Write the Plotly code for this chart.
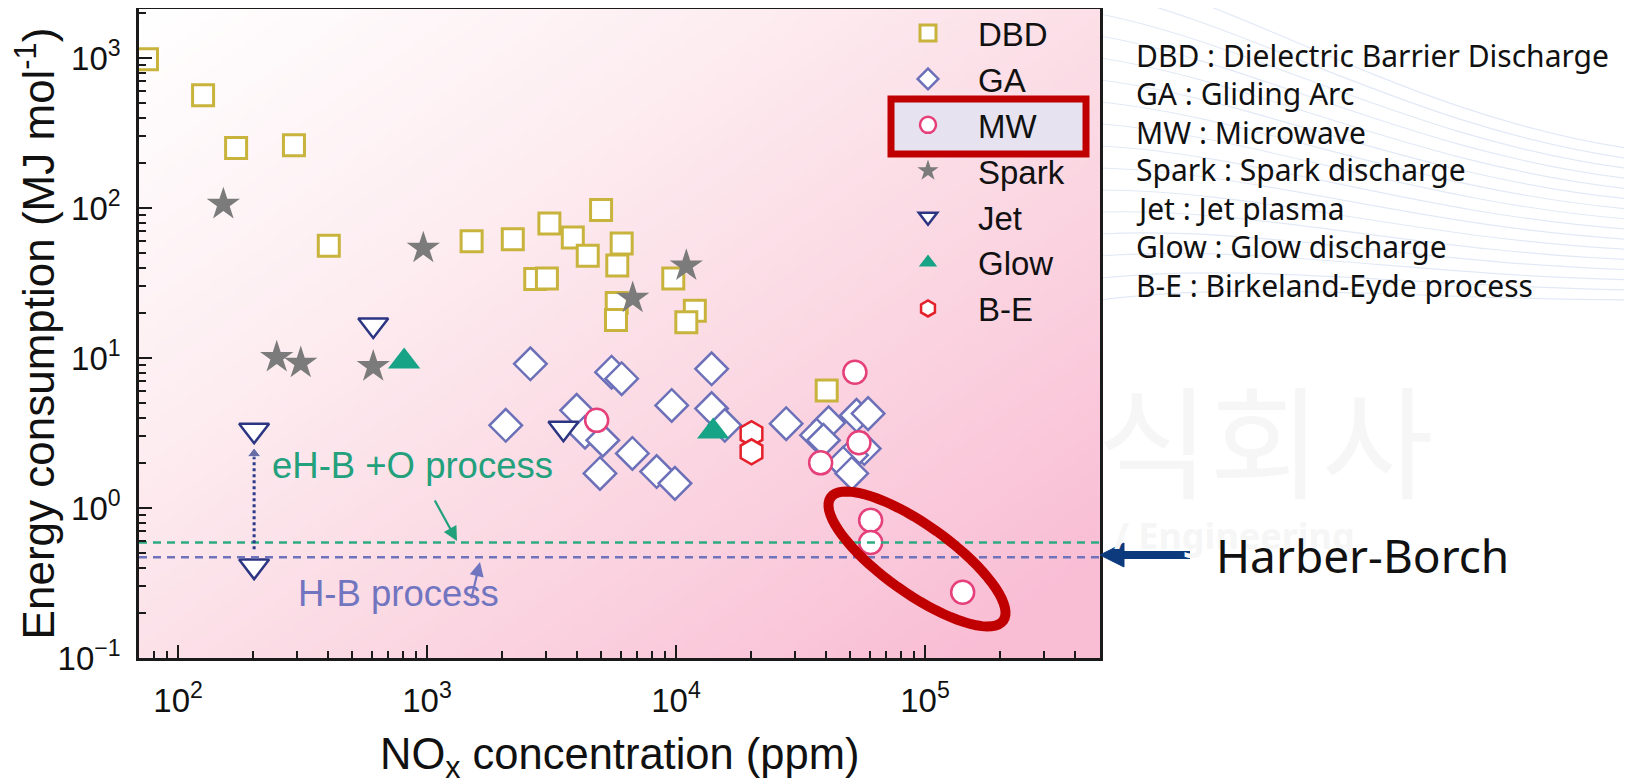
import base64
import math
import struct
import zlib

import plotly.graph_objects as go

# ---------------- data ----------------
dbd_x = [75, 126, 171, 292, 403, 1510, 2210, 3100, 5000, 3850, 4420, 6050, 5810,
         2720, 3030, 5780, 5740, 9750, 11900, 11000, 40300]
dbd_y = [980, 565, 251, 262, 56, 60, 62, 79, 97, 63.5, 48, 58, 41.4,
         33.6, 33.9, 23.3, 17.9, 33.9, 20.7, 17.3, 6.08]

ga_x = [2070, 2600, 3990, 4310, 5080, 4950, 5510, 6050, 6680, 8360, 9900, 9610,
        13900, 13900, 15700, 27700, 41000, 36700, 39100, 53100, 59100, 57000,
        50700, 46900, 50800]
ga_y = [3.56, 9.15, 4.48, 3.2, 2.83, 1.70, 8.05, 7.28, 2.31, 1.75, 1.46, 4.83,
        8.48, 4.6, 3.56, 3.65, 3.7, 3.06, 2.83, 4.15, 4.26, 2.49,
        2.25, 1.99, 1.70]

mw_x = [4800, 52300, 54300, 38100, 60500, 60500, 141700]
mw_y = [3.84, 8.05, 2.72, 2.0, 0.83, 0.588, 0.274]

spark_x = [152, 966, 249, 311, 608, 11000, 6700]
spark_y = [106, 54, 10.1, 9.25, 8.78, 41.2, 25.1]

jet_x = [608, 202, 202, 3530]
jet_y = [16.6, 3.3, 0.41, 3.4]

glow_x = [809, 14100]
glow_y = [9.47, 3.24]

be_x = [20100, 20100]
be_y = [3.13, 2.37]

# reference energy levels (MJ/mol)
ehb_o_level = 0.59
hb_level = 0.47
# dotted arrow between the two jet points
jet_arrow_x = 202
jet_arrow_y = [0.53, 2.3]

x_tick_vals = [1e2, 1e3, 1e4, 1e5]
x_tick_text = ["10<sup>2</sup>", "10<sup>3</sup>", "10<sup>4</sup>", "10<sup>5</sup>"]
y_tick_vals = [1e-1, 1e0, 1e1, 1e2, 1e3]
y_tick_text = ["10<sup>\u22121</sup>", "10<sup>0</sup>", "10<sup>1</sup>",
               "10<sup>2</sup>", "10<sup>3</sup>"]

x_range_log = [1.843, 5.703]
y_range_log = [-1.0, 3.327]

x_title = "NO<sub>x</sub> concentration (ppm)"
y_title = "Energy consumption (MJ mol<sup>-1</sup>)"

glossary = [
    "DBD : Dielectric Barrier Discharge",
    "GA : Gliding Arc",
    "MW : Microwave",
    "Spark : Spark discharge",
    "Jet : Jet plasma",
    "Glow : Glow discharge",
    "B-E : Birkeland-Eyde process",
]

# ---------------- layout geometry ----------------
# The page body adds an 8 px offset, so the figure is 8 px smaller and all
# positions below are given in page pixels and converted to paper units.
BODY = 8
W, H = 1632 - BODY, 784 - BODY
PLOT_L, PLOT_R, PLOT_T, PLOT_B = 139, 1100, 9, 658   # page pixels
ML = PLOT_L - BODY
MR = W - (PLOT_R - BODY)
MT = PLOT_T - BODY
MB = H - (PLOT_B - BODY)
PW = PLOT_R - PLOT_L
PH = PLOT_B - PLOT_T


def px(x):
    return (x - PLOT_L) / PW


def py(y):
    return (PLOT_B - y) / PH


# ---------------- gradient background image ----------------
def gradient_png(w, h):
    stops = [(0.0, (255, 255, 255)), (0.35, (253, 237, 241)),
             (0.65, (251, 216, 227)), (1.0, (249, 189, 212))]

    def col(t):
        t = max(0.0, min(1.0, t))
        for (t0, c0), (t1, c1) in zip(stops[:-1], stops[1:]):
            if t <= t1:
                f = (t - t0) / (t1 - t0)
                return tuple(int(round(a + (b - a) * f)) for a, b in zip(c0, c1))
        return stops[-1][1]

    rows = []
    for j in range(h):
        v = j / (h - 1)
        row = bytearray(b"\x00")
        for i in range(w):
            u = i / (w - 1)
            row.extend(col(0.55 * u + 0.52 * v))
        rows.append(bytes(row))
    raw = b"".join(rows)

    def chunk(tag, data):
        return (struct.pack(">I", len(data)) + tag + data +
                struct.pack(">I", zlib.crc32(tag + data) & 0xFFFFFFFF))

    png = (b"\x89PNG\r\n\x1a\n" +
           chunk(b"IHDR", struct.pack(">IIBBBBB", w, h, 8, 2, 0, 0, 0)) +
           chunk(b"IDAT", zlib.compress(raw, 9)) + chunk(b"IEND", b""))
    return "data:image/png;base64," + base64.b64encode(png).decode()


bg_src = gradient_png(240, 160)

FONT = "Liberation Sans, Arial, sans-serif"
WHITE = "white"

fig = go.Figure()

series = [
    ("DBD", dbd_x, dbd_y, "square", 21, WHITE, "#c8b43c", 3),
    ("GA", ga_x, ga_y, "diamond", 25, WHITE, "#6b70b8", 2.5),
    ("MW", mw_x, mw_y, "circle", 23, WHITE, "#e5407a", 2.5),
    ("Spark", spark_x, spark_y, "star", 25, "#7b7b7b", "#7b7b7b", 0),
    ("Jet", jet_x, jet_y, "triangle-down", 26, WHITE, "#2b3582", 2.5),
    ("Glow", glow_x, glow_y, "triangle-up", 28, "#17a386", "#17a386", 0),
    ("B-E", be_x, be_y, "hexagon", 25, WHITE, "#e4202a", 2.5),
]
for name, xs, ys, sym, size, fill, line_c, lw in series:
    fig.add_trace(go.Scatter(
        x=xs, y=ys, mode="markers", name=name,
        marker=dict(symbol=sym, size=size, color=fill,
                    line=dict(color=line_c, width=lw)),
    ))

x_lo, x_hi = 10 ** x_range_log[0], 10 ** x_range_log[1]
fig.add_trace(go.Scatter(x=[x_lo, x_hi], y=[ehb_o_level, ehb_o_level], mode="lines",
                         line=dict(color="#2eaa82", width=2.5, dash="8px,6px"),
                         showlegend=False, hoverinfo="skip"))
fig.add_trace(go.Scatter(x=[x_lo, x_hi], y=[hb_level, hb_level], mode="lines",
                         line=dict(color="#6f73bb", width=2.5, dash="8px,6px"),
                         showlegend=False, hoverinfo="skip"))
fig.add_trace(go.Scatter(x=[jet_arrow_x, jet_arrow_x], y=jet_arrow_y, mode="lines+markers",
                         line=dict(color="#2b3a8a", width=3, dash="dot"),
                         marker=dict(symbol=["circle", "triangle-up"], size=[0, 12],
                                     color="#2b3a8a"),
                         showlegend=False, hoverinfo="skip"))

axis_common = dict(
    type="log", showgrid=False, zeroline=False, showline=True, linewidth=2.5,
    linecolor="#1a1a1a", mirror=True, ticks="inside", ticklen=13, tickwidth=2,
    tickcolor="#1a1a1a", tickfont=dict(family=FONT, size=33, color="#111"),
    automargin=False,
)

x_minor = [k * 10 ** n for n in range(1, 6) for k in range(2, 10)
           if x_range_log[0] < math.log10(k * 10 ** n) < x_range_log[1]]
y_minor = [k * 10 ** n for n in range(-1, 4) for k in range(2, 10)
           if y_range_log[0] < math.log10(k * 10 ** n) < y_range_log[1]]

fig.update_xaxes(**axis_common, range=x_range_log, tickmode="array",
                 tickvals=x_tick_vals, ticktext=x_tick_text, ticklabelstandoff=12,
                 minor=dict(tickmode="array", tickvals=x_minor, ticks="inside",
                            ticklen=7, tickwidth=2, tickcolor="#1a1a1a", showgrid=False))
fig.update_yaxes(**axis_common, range=y_range_log, tickmode="array",
                 tickvals=y_tick_vals, ticktext=y_tick_text, ticklabelstandoff=9,
                 minor=dict(tickmode="array", tickvals=y_minor, ticks="inside",
                            ticklen=7, tickwidth=2, tickcolor="#1a1a1a", showgrid=False),
                 title=dict(text=y_title,
                            font=dict(family=FONT, size=44, color="#111"), standoff=14))

# ---------------- shapes ----------------
shapes = []
# faint background swirl lines (top right of the slide)
for k in range(16):
    x0, y0 = 1100, -30 + 22 * k
    c1 = (1260, 10 + 18 * k)
    c2 = (1420, 120 + 12 * k)
    x3, y3 = 1640, 150 + 10 * k
    shapes.append(dict(
        type="path", xref="paper", yref="paper", layer="below",
        path=(f"M {px(x0):.5f},{py(y0):.5f} C {px(c1[0]):.5f},{py(c1[1]):.5f} "
              f"{px(c2[0]):.5f},{py(c2[1]):.5f} {px(x3):.5f},{py(y3):.5f}"),
        line=dict(color="#e2e9f6", width=1.2)))
# highlight box around the MW legend entry
shapes.append(dict(type="rect", xref="paper", yref="paper",
                   x0=px(891), x1=px(1086), y0=py(154), y1=py(99),
                   line=dict(color="#c00000", width=7), fillcolor="#e6e2f0",
                   layer="above"))
# red ellipse around the low-energy MW points
cx, cy, A, B, th = 917, 559, 106, 34, math.radians(35.5)
pts = []
for k in range(73):
    t = 2 * math.pi * k / 72
    ex = cx + A * math.cos(t) * math.cos(th) - B * math.sin(t) * math.sin(th)
    ey = cy + A * math.cos(t) * math.sin(th) + B * math.sin(t) * math.cos(th)
    pts.append((px(ex), py(ey)))
path = "M " + " L ".join(f"{a:.5f},{b:.5f}" for a, b in pts) + " Z"
shapes.append(dict(type="path", xref="paper", yref="paper", path=path,
                   line=dict(color="#c00000", width=10), layer="above"))
# Harber-Borch arrow (outside plot)
shapes.append(dict(type="line", xref="paper", yref="paper",
                   x0=px(1190), x1=px(1118), y0=py(555), y1=py(555),
                   line=dict(color="#0c3a7d", width=8)))
shapes.append(dict(type="path", xref="paper", yref="paper",
                   path=f"M {px(1100):.5f},{py(555):.5f} L {px(1124):.5f},{py(543):.5f} "
                        f"L {px(1124):.5f},{py(567):.5f} Z",
                   fillcolor="#0c3a7d", line=dict(color="#0c3a7d", width=1)))

# ---------------- annotations ----------------
ann = []
# x-axis title (placed as annotation so it can sit low in the margin)
ann.append(dict(x=0.5, y=py(757), xref="paper", yref="paper", text=x_title,
                showarrow=False, xanchor="center", yanchor="middle",
                font=dict(family=FONT, size=43.5, color="#111")))
# faint watermark remnants
ann.append(dict(x=px(1265), y=py(436), xref="paper", yref="paper", text="식회사",
                showarrow=False, xanchor="center", yanchor="middle",
                font=dict(family="Noto Sans CJK KR", size=122, color="#f6f6f6")))
ann.append(dict(x=px(1112), y=py(535), xref="paper", yref="paper", text="<b>/ Engineering</b>",
                showarrow=False, xanchor="left", yanchor="middle",
                font=dict(family="Noto Sans, sans-serif", size=36, color="#f6f6f6")))
ann.append(dict(x=px(412), y=py(466), xref="paper", yref="paper", text="eH-B +O process",
                showarrow=False, font=dict(family=FONT, size=36.5, color="#22a17c"),
                xanchor="center", yanchor="middle"))
ann.append(dict(x=px(398), y=py(593), xref="paper", yref="paper", text="H-B process",
                showarrow=False, font=dict(family=FONT, size=36.5, color="#7175c0"),
                xanchor="center", yanchor="middle"))
ann.append(dict(x=px(457), y=py(541), xref="paper", yref="paper", text="",
                showarrow=True, ax=-23, ay=-42, arrowhead=2, arrowsize=1.3,
                arrowwidth=2.2, arrowcolor="#22a17c"))
ann.append(dict(x=px(480), y=py(562), xref="paper", yref="paper", text="",
                showarrow=True, ax=-9, ay=38, arrowhead=2, arrowsize=1.3,
                arrowwidth=2.2, arrowcolor="#7175c0"))
line_y = [55, 93, 132, 170, 208, 247, 285]
for txt, yy in zip(glossary, line_y):
    ann.append(dict(x=px(1134), y=py(yy), xref="paper", yref="paper", text=txt,
                    showarrow=False, xanchor="left", yanchor="middle",
                    font=dict(family="Noto Sans, sans-serif", size=30, color="#111")))
ann.append(dict(x=px(1214), y=py(555), xref="paper", yref="paper", text="Harber-Borch",
                showarrow=False, xanchor="left", yanchor="middle",
                font=dict(family="Noto Sans, sans-serif", size=46, color="#111")))

fig.update_layout(
    width=W, height=H,
    margin=dict(l=ML, r=MR, t=MT, b=MB, autoexpand=False),
    paper_bgcolor="white", plot_bgcolor="rgba(0,0,0,0)",
    images=[dict(source=bg_src, xref="paper", yref="paper", x=0, y=1, sizex=1, sizey=1,
                 xanchor="left", yanchor="top", sizing="stretch", layer="below")],
    shapes=shapes, annotations=ann,
    legend=dict(x=px(878), y=1.006, xanchor="left", yanchor="top", bgcolor="rgba(0,0,0,0)",
                itemwidth=90, font=dict(family=FONT, size=33, color="#111"),
                tracegroupgap=0),
    showlegend=True,
)

fig.write_html("out.html")
